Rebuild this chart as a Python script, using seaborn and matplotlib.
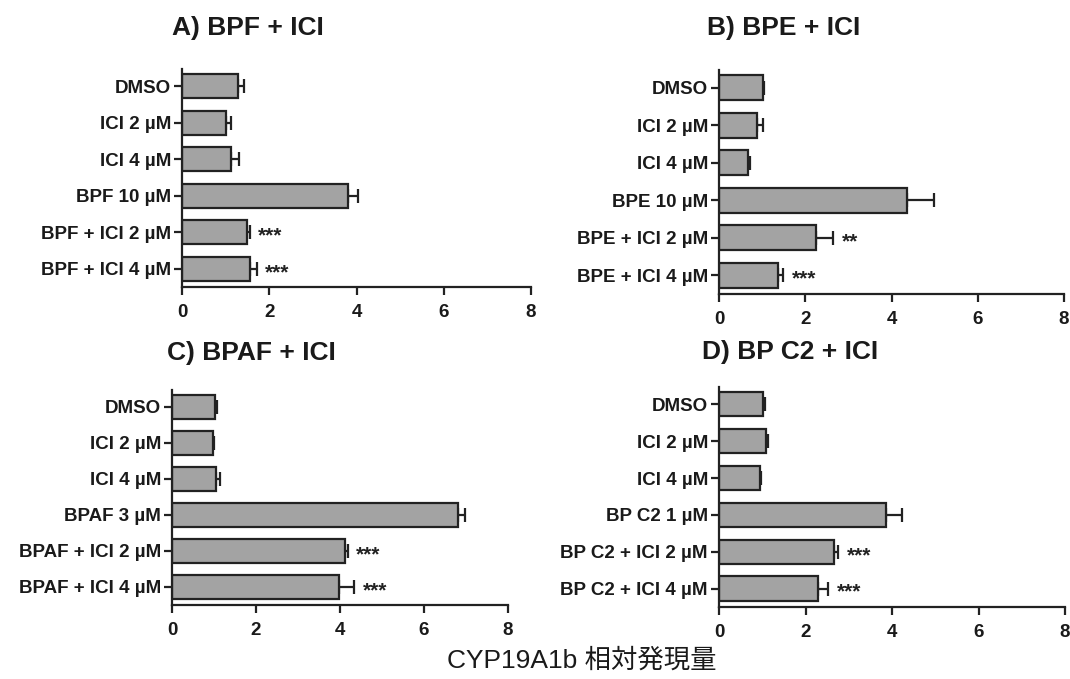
import numpy as np
import pandas as pd
import matplotlib
matplotlib.use('Agg')
import matplotlib.pyplot as plt
import seaborn as sns

# values (relative expression, mean and upper SEM)
labels_a = ['DMSO', 'ICI 2 µM', 'ICI 4 µM', 'BPF 10 µM', 'BPF + ICI 2 µM', 'BPF + ICI 4 µM']
mean_a = [1.28, 1.00, 1.13, 3.80, 1.50, 1.55]
err_a = [0.13, 0.13, 0.18, 0.24, 0.05, 0.16]
stars_a = ['', '', '', '', '***', '***']

labels_b = ['DMSO', 'ICI 2 µM', 'ICI 4 µM', 'BPE 10 µM', 'BPE + ICI 2 µM', 'BPE + ICI 4 µM']
mean_b = [1.01, 0.89, 0.67, 4.36, 2.24, 1.36]
err_b = [0.03, 0.12, 0.05, 0.63, 0.41, 0.13]
stars_b = ['', '', '', '', '**', '***']

labels_c = ['DMSO', 'ICI 2 µM', 'ICI 4 µM', 'BPAF 3 µM', 'BPAF + ICI 2 µM', 'BPAF + ICI 4 µM']
mean_c = [1.02, 0.98, 1.04, 6.82, 4.11, 3.97]
err_c = [0.06, 0.03, 0.10, 0.15, 0.08, 0.37]
stars_c = ['', '', '', '', '***', '***']

labels_d = ['DMSO', 'ICI 2 µM', 'ICI 4 µM', 'BP C2 1 µM', 'BP C2 + ICI 2 µM', 'BP C2 + ICI 4 µM']
mean_d = [1.01, 1.08, 0.95, 3.86, 2.66, 2.28]
err_d = [0.05, 0.05, 0.02, 0.37, 0.10, 0.25]
stars_d = ['', '', '', '', '***', '***']

titles = ['A) BPF + ICI', 'B) BPE + ICI', 'C) BPAF + ICI', 'D) BP C2 + ICI']
xticks = [0, 2, 4, 6, 8]
xlabel = 'CYP19A1b 相対発現量'

sns.set_style('ticks')
plt.rcParams['font.family'] = ['Liberation Sans', 'DejaVu Sans']

W, H = 1070, 679
fig = plt.figure(figsize=(W / 100, H / 100), dpi=100)

# axes boxes in pixels: left, right, top, bottom
boxes = [(182, 531, 69, 287), (719, 1064, 70, 294),
         (172, 508, 390, 605), (719, 1065, 387, 607)]
title_pos = [(248, 28), (784, 28), (251, 353), (790, 352)]

panels = [(labels_a, mean_a, err_a, stars_a),
          (labels_b, mean_b, err_b, stars_b),
          (labels_c, mean_c, err_c, stars_c),
          (labels_d, mean_d, err_d, stars_d)]

for i, (labels, mean, err, stars) in enumerate(panels):
    l, r, t, b = boxes[i]
    ax = fig.add_axes([l / W, 1 - b / H, (r - l) / W, (b - t) / H])
    df = pd.DataFrame({'group': labels, 'value': mean, 'err': err})

    # error bars first, so the bars cover their left half
    ax.errorbar(df['value'], np.arange(len(df)),
                xerr=[np.zeros(len(df)), df['err']],
                fmt='none', ecolor='#222222', elinewidth=1.6,
                capsize=5, capthick=1.6, zorder=1)
    sns.barplot(data=df, x='value', y='group', orient='h', color='#a3a3a3',
                saturation=1, edgecolor='#222222', linewidth=1.6,
                width=0.66, errorbar=None, ax=ax, zorder=2)

    for j, s in enumerate(stars):
        if s:
            ax.text(df['value'][j] + df['err'][j] + 0.2, j + 0.1, s,
                    fontsize=15, fontweight='bold', va='center', ha='left',
                    color='#222222')

    ax.set_xlim(0, 8)
    ax.set_ylim(len(df) - 0.5, -0.47)
    ax.set_xticks(xticks)
    ax.set_xlabel('')
    ax.set_ylabel('')
    sns.despine(ax=ax)
    for sp in ['left', 'bottom']:
        ax.spines[sp].set_linewidth(1.6)
        ax.spines[sp].set_color('#222222')
    ax.tick_params(axis='both', direction='out', length=6, width=1.6,
                   color='#222222', labelsize=13.5, pad=2,
                   labelcolor='#1a1a1a')
    ax.tick_params(axis='x', pad=6)
    for lab in ax.get_xticklabels() + ax.get_yticklabels():
        lab.set_fontweight('bold')

    fig.text(title_pos[i][0] / W, 1 - title_pos[i][1] / H, titles[i],
             fontsize=19, fontweight='bold', ha='center', va='center',
             color='#1a1a1a')

fig.text(582 / W, 1 - 660 / H, xlabel, fontsize=19, ha='center', va='center',
         family=['Liberation Sans', 'Noto Sans CJK JP'], color='#1a1a1a')

fig.savefig('out.png', dpi=100)
